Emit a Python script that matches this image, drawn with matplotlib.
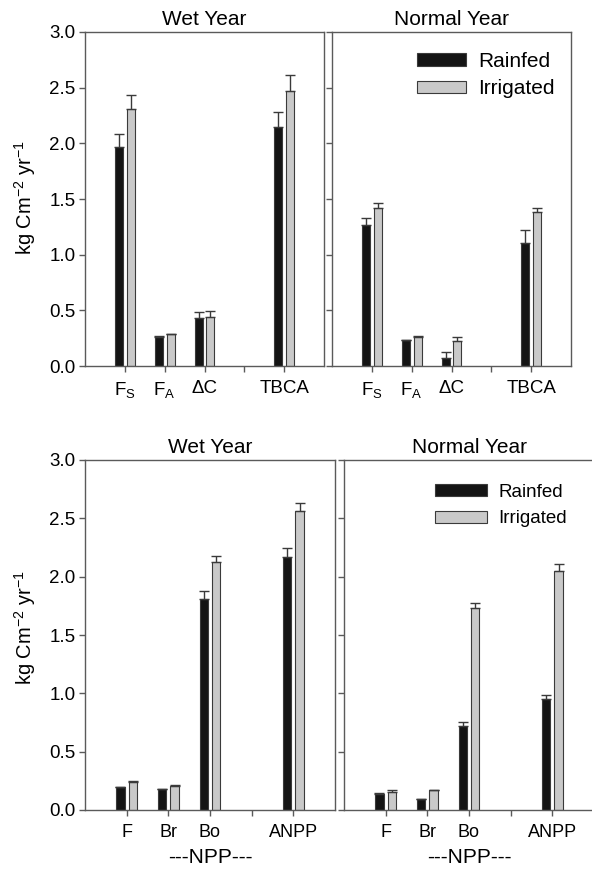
import numpy as np
import matplotlib
matplotlib.use("Agg")
import matplotlib.pyplot as plt

plt.rcParams["font.family"] = ["Liberation Sans", "DejaVu Sans"]
plt.rcParams["mathtext.fontset"] = "custom"
plt.rcParams["mathtext.rm"] = "Liberation Sans"
plt.rcParams["mathtext.it"] = "Liberation Sans"

# ---- data -------------------------------------------------------------
# positions 1,2,3 then a gap tick at 4, total at 5
bar_pos = [1, 2, 3, 5]
tick_pos = [1, 2, 3, 4, 5]

flux_labels = ["F$_\\mathregular{S}$", "F$_\\mathregular{A}$", "\u0394C", "", "TBCA"]
npp_labels = ["F", "Br", "Bo", "", "ANPP"]

# top: carbon fluxes
wet_flux_rain = [1.97, 0.26, 0.435, 2.145]
wet_flux_rain_err = [0.11, 0.008, 0.05, 0.14]
wet_flux_irr = [2.31, 0.285, 0.44, 2.47]
wet_flux_irr_err = [0.12, 0.005, 0.055, 0.14]

norm_flux_rain = [1.265, 0.23, 0.07, 1.105]
norm_flux_rain_err = [0.065, 0.007, 0.06, 0.115]
norm_flux_irr = [1.415, 0.26, 0.225, 1.38]
norm_flux_irr_err = [0.045, 0.008, 0.036, 0.04]

# bottom: NPP
wet_npp_rain = [0.20, 0.18, 1.81, 2.165]
wet_npp_rain_err = [0.0, 0.0, 0.07, 0.077]
wet_npp_irr = [0.243, 0.209, 2.125, 2.56]
wet_npp_irr_err = [0.008, 0.005, 0.055, 0.07]

norm_npp_rain = [0.137, 0.094, 0.72, 0.95]
norm_npp_rain_err = [0.01, 0.004, 0.034, 0.037]
norm_npp_irr = [0.152, 0.171, 1.73, 2.05]
norm_npp_irr_err = [0.02, 0.004, 0.048, 0.058]

series_names = ["Rainfed", "Irrigated"]
yticks = [0.0, 0.5, 1.0, 1.5, 2.0, 2.5, 3.0]

# ---- style ------------------------------------------------------------
SPINE = "#5a5a5a"
RAIN_C = "#141414"
IRR_C = "#c9c9c9"
EDGE = "#3a3a3a"
W = 0.2
OFF = 0.15

W_PX, H_PX = 592, 869
fig = plt.figure(figsize=(W_PX / 100, H_PX / 100), dpi=100)


def make_axes(x0, y0, x1, y1):
    # pixel box -> figure fraction
    return fig.add_axes([x0 / W_PX, 1 - y1 / H_PX, (x1 - x0) / W_PX, (y1 - y0) / H_PX])


def draw_panel(ax, rain, rain_err, irr, irr_err, labels, xfs, show_y):
    x = np.array(bar_pos, dtype=float)
    ax.bar(x - OFF, rain, W, color=RAIN_C, edgecolor=EDGE, linewidth=0.8,
           label=series_names[0], zorder=2)
    ax.bar(x + OFF, irr, W, color=IRR_C, edgecolor=EDGE, linewidth=0.8,
           label=series_names[1], zorder=2)
    for dx, vals, err in [(-OFF, rain, rain_err), (OFF, irr, irr_err)]:
        ax.errorbar(x + dx, vals, yerr=[np.zeros(len(err)), err], fmt="none",
                    ecolor=EDGE, elinewidth=1.0, capsize=3.3, capthick=1.0, zorder=3)
    ax.set_xlim(0, 6)
    ax.set_ylim(0, 3.0)
    ax.set_xticks(tick_pos)
    ax.set_xticklabels(labels, fontsize=xfs)
    ax.set_yticks(yticks)
    if show_y:
        ax.set_yticklabels([f"{v:.1f}" for v in yticks], fontsize=13.5)
    else:
        ax.set_yticklabels([])
    for s in ax.spines.values():
        s.set_color(SPINE)
        s.set_linewidth(1.0)
    ax.tick_params(axis="both", direction="out", length=4, width=1.0,
                   color=SPINE, pad=3)
    ax.tick_params(axis="x", pad=6)


ylabel = "kg Cm$^{-2}$ yr$^{-1}$"

# top row
ax1 = make_axes(85, 32, 324, 366)
ax2 = make_axes(332, 32, 571, 366)
draw_panel(ax1, wet_flux_rain, wet_flux_rain_err, wet_flux_irr, wet_flux_irr_err,
           flux_labels, 13.5, True)
draw_panel(ax2, norm_flux_rain, norm_flux_rain_err, norm_flux_irr, norm_flux_irr_err,
           flux_labels, 13.5, False)
ax1.set_title("Wet Year", fontsize=15, pad=5)
ax2.set_title("Normal Year", fontsize=15, pad=5)
ax2.legend(loc="upper left", bbox_to_anchor=(0.355, 0.94), frameon=False,
           fontsize=15, handlelength=2.35, handleheight=0.55, handletextpad=0.6,
           borderpad=0, borderaxespad=0, labelspacing=0.4)

# bottom row
ax3 = make_axes(85, 460, 335, 810)
ax4 = make_axes(344, 460, 594, 810)
draw_panel(ax3, wet_npp_rain, wet_npp_rain_err, wet_npp_irr, wet_npp_irr_err,
           npp_labels, 13, True)
draw_panel(ax4, norm_npp_rain, norm_npp_rain_err, norm_npp_irr, norm_npp_irr_err,
           npp_labels, 13, False)
ax3.set_title("Wet Year", fontsize=15, pad=5)
ax4.set_title("Normal Year", fontsize=15, pad=5)
ax3.set_xlabel("---NPP---", fontsize=15, labelpad=5)
ax4.set_xlabel("---NPP---", fontsize=15, labelpad=5)
ax4.legend(loc="upper left", bbox_to_anchor=(0.363, 0.932), frameon=False,
           fontsize=13.5, handlelength=2.8, handleheight=0.6, handletextpad=0.6,
           borderpad=0, borderaxespad=0, labelspacing=0.5)

fig.text(25 / W_PX, 1 - 198 / H_PX, ylabel, rotation=90, fontsize=14.5,
         ha="center", va="center")
fig.text(25 / W_PX, 1 - 628 / H_PX, ylabel, rotation=90, fontsize=14.5,
         ha="center", va="center")

fig.savefig("out.png", dpi=100)
